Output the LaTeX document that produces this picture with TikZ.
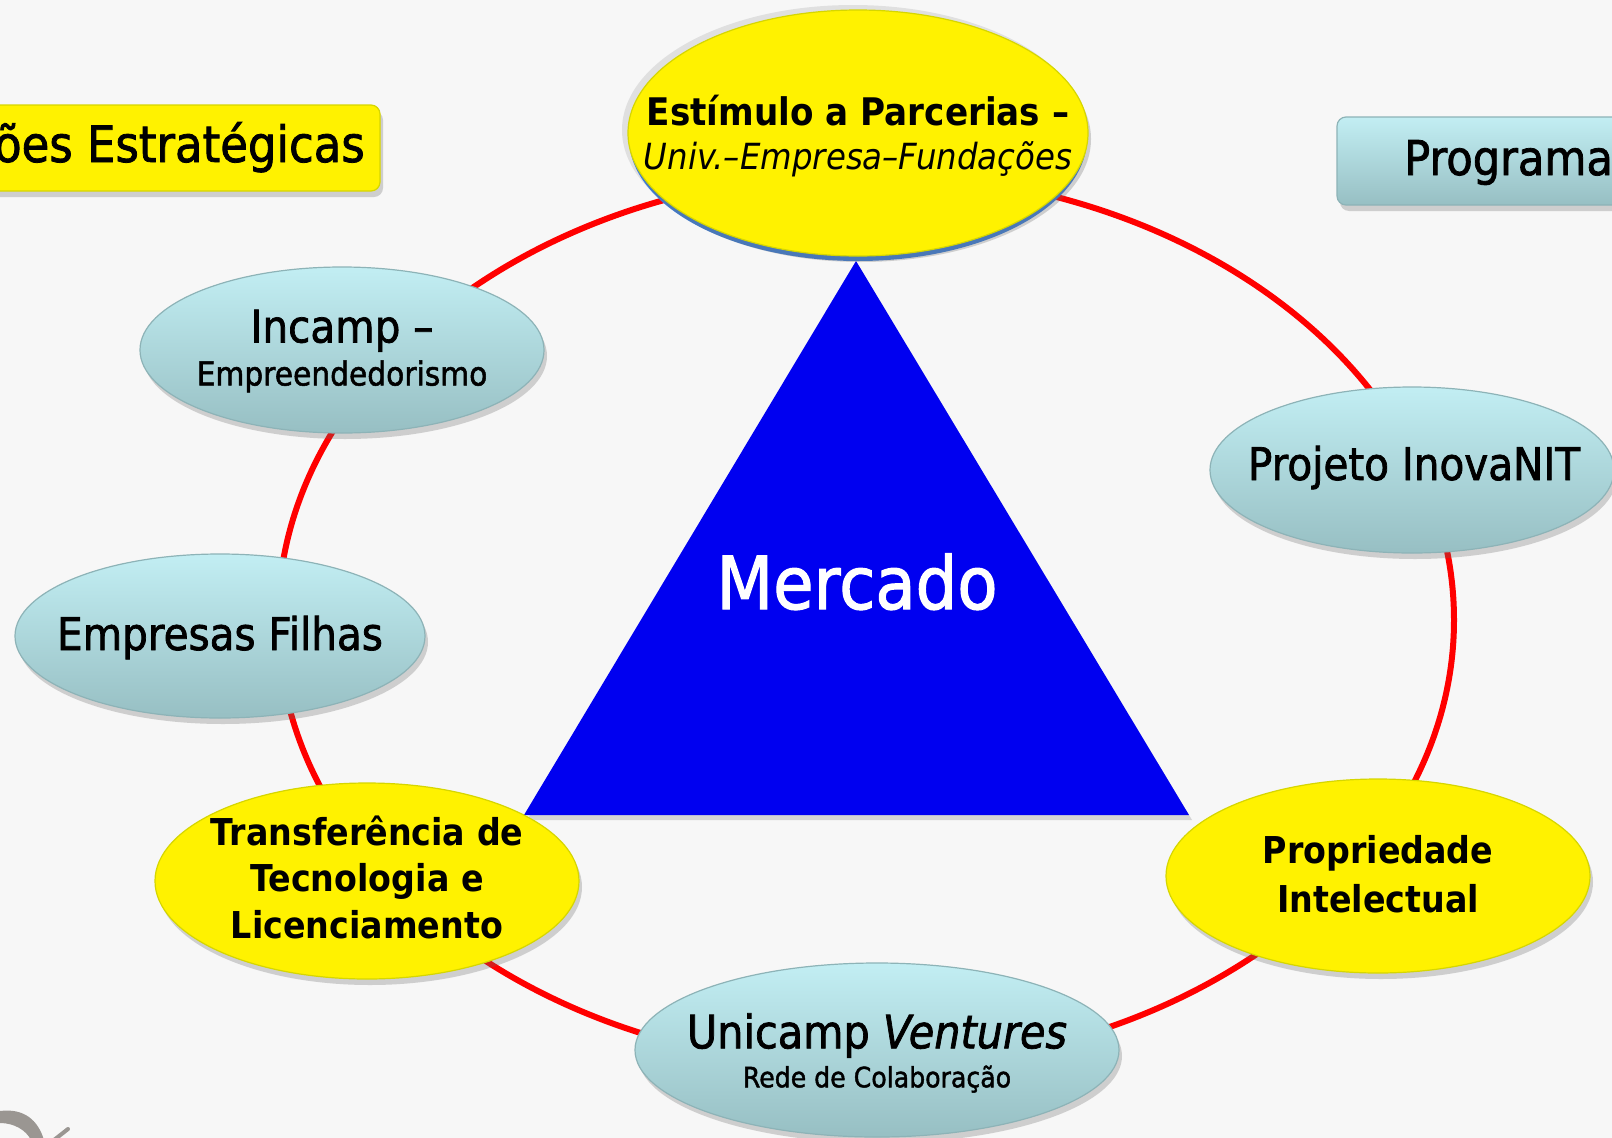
\documentclass[tikz,border=0pt]{standalone}
\usepackage{fontspec}
\setmainfont{DejaVu Sans}[FakeStretch=0.9]
\newfontfamily\medfont{DejaVu Sans}[FakeStretch=0.9, FakeBold=1.6]
\usetikzlibrary{shapes.geometric,shadows}
\definecolor{bg}{HTML}{F7F7F7}
\definecolor{cyTop}{HTML}{C2EEF3}
\definecolor{cyBot}{HTML}{97BFC3}
\definecolor{cyEdge}{HTML}{8DB3B7}
\definecolor{yEdge}{HTML}{D6D600}
\definecolor{triBlue}{HTML}{0000F0}
\definecolor{rimBlue}{HTML}{3F7FD8}
\definecolor{logoGray}{HTML}{9A9692}
\tikzset{
  ringline/.style={draw=red, line width=6pt},
  shad/.style={drop shadow={shadow xshift=3pt, shadow yshift=-6pt, opacity=0.28, fill=black!60}},
  cyanell/.style={ellipse, inner sep=0pt, top color=cyTop, bottom color=cyBot, draw=cyEdge, line width=1.2pt, shad},
  yellell/.style={ellipse, inner sep=0pt, fill=yellow, draw=yEdge, line width=1.2pt, shad},
  lbl/.style={align=center, text=black, inner sep=0pt},
  ybox/.style={rectangle, rounded corners=9pt, fill=yellow, draw=yEdge, line width=1.2pt, inner sep=0pt, shad},
  cbox/.style={rectangle, rounded corners=9pt, top color=cyTop, bottom color=cyBot, draw=cyEdge, line width=1.2pt, inner sep=0pt, shad}
}
\begin{document}
\begin{tikzpicture}[x=1pt, y=-1pt]
\useasboundingbox (0,0) rectangle (1612,1138);
\fill[bg] (0,0) rectangle (1612,1138);
\begin{scope}
\clip (0,0) rectangle (1612,1138);

% partial logo bottom-left
\fill[logoGray] (0,1111) .. controls (24,1108) and (38,1120) .. (44,1140)
  -- (31,1140) .. controls (26,1130) and (14,1123) .. (0,1123) -- cycle;
\draw[logoGray, line width=4pt, line cap=round] (54,1140) -- (68,1129);

% header boxes
\node[ybox, minimum width=410, minimum height=86] (acoes) at (175,148) {};
\node[lbl, anchor=base east, font=\medfont\fontsize{50}{60}\selectfont] (acoesT) at (365,162) {Ações Estratégicas};
\node[cbox, minimum width=330, minimum height=88] (prog) at (1502,161) {};
\node[lbl, anchor=base west, font=\medfont\fontsize{48}{55}\selectfont] (progT) at (1404,175) {Programa};

% red ring
\draw[ringline] (866,620) ellipse [x radius=588, y radius=447];

% triangle
\coordinate (tA) at (856,261);
\coordinate (tB) at (524,815);
\coordinate (tC) at (1189,815);
\fill[black!30, opacity=0.5] ([shift={(3,5)}]tA) -- ([shift={(3,5)}]tB) -- ([shift={(3,5)}]tC) -- cycle;
\fill[triBlue] (tA) -- (tB) -- (tC) -- cycle;
\node[lbl, anchor=base, text=white, font=\medfont\fontsize{73}{80}\selectfont] (mercado) at (857,609) {Mercado};

% top ellipse with rim
\node[ellipse, inner sep=0pt, fill=black!12, minimum width=462, minimum height=250] (estimH) at (853,130) {};
\node[ellipse, inner sep=0pt, fill=rimBlue, minimum width=458, minimum height=246] (estimR) at (858,138) {};
\node[yellell, minimum width=460, minimum height=246, drop shadow={opacity=0}] (estim) at (858,133) {};
\node[lbl, font=\fontsize{38}{44}\selectfont] (estimT) at (858,136) {{\bfseries Estímulo a Parcerias –}\\{\fontsize{36}{44}\selectfont\itshape Univ.–Empresa–Fundações}};

% other nodes
\node[cyanell, minimum width=404, minimum height=166] (incamp) at (342,350) {};
\node[lbl, font=\medfont\fontsize{45}{43}\selectfont] (incampT) at (342,351) {Incamp –\\{\fontsize{33}{43}\selectfont Empreendedorismo}};

\node[cyanell, minimum width=410, minimum height=164] (filhas) at (220,636) {};
\node[lbl, anchor=base, font=\medfont\fontsize{45}{54}\selectfont] (filhasT) at (220,650) {Empresas Filhas};

\node[yellell, minimum width=424, minimum height=196] (transf) at (367,881) {};
\node[lbl, font=\fontsize{37}{46.5}\selectfont\bfseries] (transfT) at (367,877) {Transferência de\\Tecnologia e\\Licenciamento};

\node[cyanell, minimum width=484, minimum height=174] (unicamp) at (877,1050) {};
\node[lbl, font=\medfont\fontsize{46}{39}\selectfont] (unicampT) at (877,1053) {Unicamp {\fontspec{DejaVu Sans Oblique}[FakeStretch=0.9, FakeBold=1.6]Ventures}\\{\fontsize{28}{39}\selectfont Rede de Colaboração}};

\node[yellell, minimum width=424, minimum height=194] (propr) at (1378,876) {};
\node[lbl, font=\fontsize{37}{49}\selectfont\bfseries] (proprT) at (1378,874) {Propriedade\\Intelectual};

\node[cyanell, minimum width=404, minimum height=166] (inova) at (1412,470) {};
\node[lbl, anchor=base, font=\medfont\fontsize{45}{54}\selectfont] (inovaT) at (1414,480) {Projeto InovaNIT};
\end{scope}
\end{tikzpicture}
\end{document}
